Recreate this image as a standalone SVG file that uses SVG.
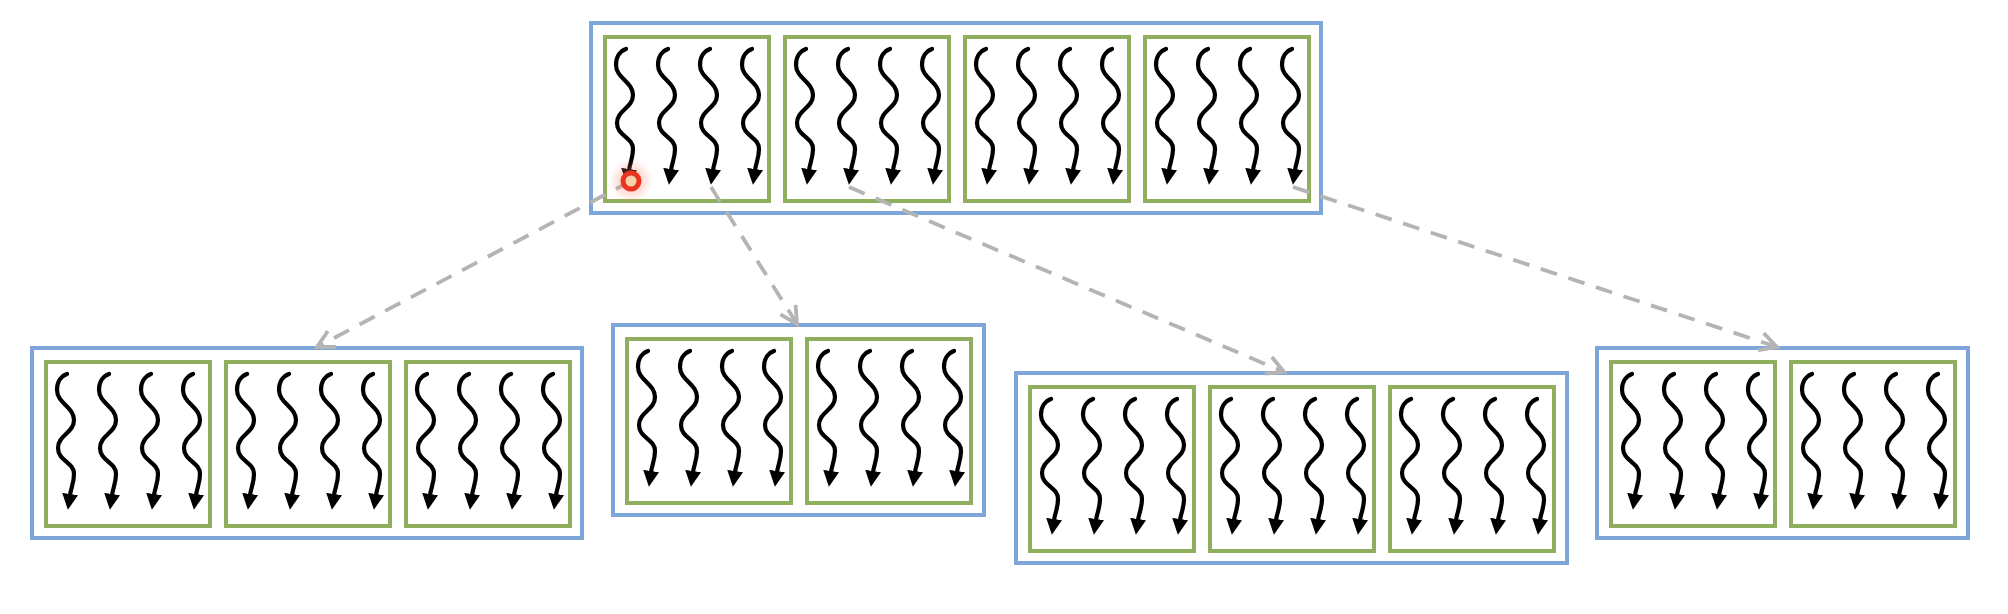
<svg xmlns="http://www.w3.org/2000/svg" xmlns:xlink="http://www.w3.org/1999/xlink" width="2008" height="614" viewBox="0 0 2008 614">
<style>
.o{fill:#fff;stroke:#7ea5d8;stroke-width:4}
.g{fill:#fff;stroke:#8fae5e;stroke-width:4}
.w{fill:none;stroke:#000;stroke-width:4.2;stroke-linecap:round}
.c{fill:none;stroke:#b4b4b4;stroke-width:3.8;stroke-dasharray:17 12}
</style>
<defs>
<marker id="ah" viewBox="0 0 16 16" refX="1" refY="8" markerWidth="16" markerHeight="16" markerUnits="userSpaceOnUse" orient="auto">
<path d="M0,0 L16,8 L0,16 z" fill="#000"/>
</marker>
<marker id="oa" viewBox="0 0 24 24" refX="21" refY="12" markerWidth="24" markerHeight="24" markerUnits="userSpaceOnUse" orient="auto">
<path d="M4,3 L21,12 L4,21" fill="none" stroke="#b4b4b4" stroke-width="3.8" stroke-linejoin="miter"/>
</marker>
<radialGradient id="glow">
<stop offset="0" stop-color="#ff6a50" stop-opacity="0.55"/>
<stop offset="1" stop-color="#ff8a70" stop-opacity="0"/>
</radialGradient>
<path id="w" class="w" marker-end="url(#ah)" d="M2,0 C-4,2 -8,8 -8,16 C-8,29 9,33 9,46 C9,59 -7,61 -7,74 C-7,87 9,88 9,100 C9,109 6,114 5,121"/>
<g id="cell">
<rect class="g" x="0" y="0" width="164" height="164"/>
<use xlink:href="#w" x="19" y="12"/>
<use xlink:href="#w" x="61" y="12"/>
<use xlink:href="#w" x="103" y="12"/>
<use xlink:href="#w" x="145" y="12"/>
</g>
</defs>
<rect width="2008" height="614" fill="#fff"/>

<g id="top">
<rect class="o" x="591" y="23" width="730" height="190"/>
<use xlink:href="#cell" x="605" y="37"/>
<use xlink:href="#cell" x="785" y="37"/>
<use xlink:href="#cell" x="965" y="37"/>
<use xlink:href="#cell" x="1145" y="37"/>
</g>

<g id="childA">
<rect class="o" x="32" y="348" width="550" height="190"/>
<use xlink:href="#cell" x="46" y="362"/>
<use xlink:href="#cell" x="226" y="362"/>
<use xlink:href="#cell" x="406" y="362"/>
</g>

<g id="childB">
<rect class="o" x="613" y="325" width="371" height="190"/>
<use xlink:href="#cell" x="627" y="339"/>
<use xlink:href="#cell" x="807" y="339"/>
</g>

<g id="childC">
<rect class="o" x="1016" y="373" width="551" height="190"/>
<use xlink:href="#cell" x="1030" y="387"/>
<use xlink:href="#cell" x="1210" y="387"/>
<use xlink:href="#cell" x="1390" y="387"/>
</g>

<g id="childD">
<rect class="o" x="1597" y="348" width="371" height="190"/>
<use xlink:href="#cell" x="1611" y="362"/>
<use xlink:href="#cell" x="1791" y="362"/>
</g>

<g id="connectors">
<path class="c" marker-end="url(#oa)" d="M631,181 L317,347"/>
<path class="c" marker-end="url(#oa)" d="M711,187 L797,324"/>
<path class="c" marker-end="url(#oa)" d="M849,187 L1284,372"/>
<path class="c" marker-end="url(#oa)" d="M1293,187 L1777,347"/>
</g>

<g id="cursor">
<circle cx="631" cy="181" r="22" fill="url(#glow)"/>
<circle cx="631" cy="181" r="8" fill="#f7d2a8" stroke="#ea3422" stroke-width="5"/>
</g>
</svg>
